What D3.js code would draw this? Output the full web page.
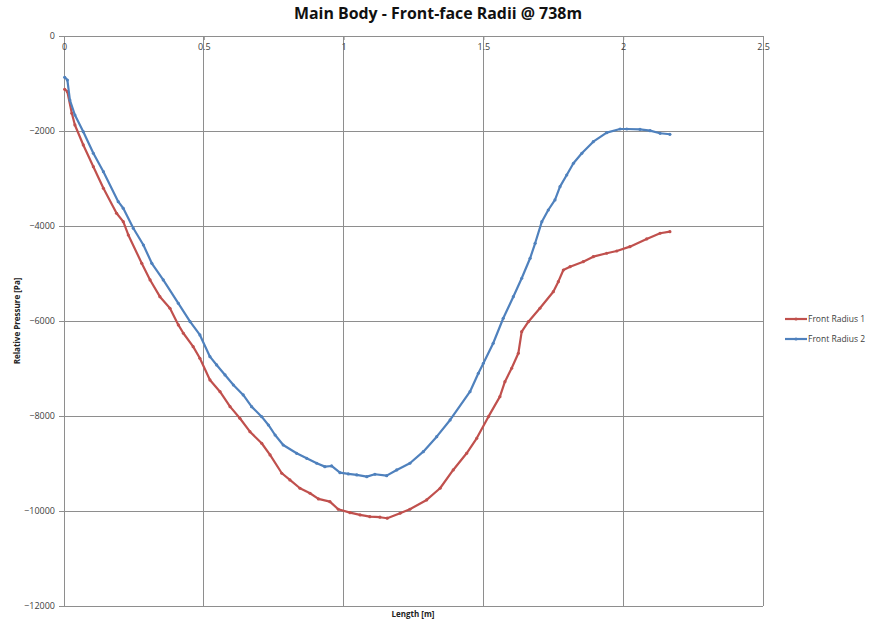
<!DOCTYPE html>
<html>
<head>
<meta charset="utf-8">
<script src="https://cdn.jsdelivr.net/npm/d3@7"></script>
<style>
  html, body { margin: 0; padding: 0; background: #fff; }
  svg { display: block; font-family: "Open Sans", "Liberation Sans", sans-serif; }
</style>
</head>
<body>
<svg id="chart" width="870" height="623"></svg>
<script>
// Front-face radii pressure profiles along the main body length
const radius1Length = [0.0025, 0.012, 0.028, 0.039, 0.069, 0.105, 0.141, 0.188, 0.212, 0.230, 0.278, 0.308, 0.343, 0.379, 0.409, 0.427, 0.462, 0.486, 0.522, 0.558, 0.594, 0.629, 0.665, 0.707, 0.737, 0.779, 0.808, 0.844, 0.880, 0.910, 0.951, 0.981, 1.023, 1.059, 1.094, 1.130, 1.156, 1.202, 1.237, 1.297, 1.345, 1.392, 1.440, 1.476, 1.518, 1.559, 1.577, 1.601, 1.625, 1.637, 1.661, 1.702, 1.750, 1.768, 1.786, 1.810, 1.857, 1.893, 1.941, 1.977, 2.024, 2.084, 2.132, 2.167];
const radius1Pressure = [-1122, -1172, -1627, -1873, -2294, -2751, -3206, -3732, -3909, -4189, -4785, -5136, -5488, -5732, -6083, -6258, -6540, -6784, -7241, -7488, -7803, -8047, -8330, -8574, -8820, -9205, -9346, -9521, -9626, -9746, -9803, -9963, -10035, -10083, -10119, -10131, -10152, -10047, -9963, -9767, -9521, -9136, -8785, -8469, -8014, -7593, -7277, -6995, -6679, -6225, -6014, -5732, -5383, -5172, -4926, -4856, -4751, -4646, -4574, -4526, -4435, -4273, -4153, -4119];

const radius2Length = [0.0025, 0.012, 0.021, 0.039, 0.069, 0.105, 0.141, 0.194, 0.212, 0.248, 0.284, 0.314, 0.355, 0.409, 0.451, 0.486, 0.522, 0.546, 0.576, 0.606, 0.641, 0.671, 0.707, 0.731, 0.755, 0.784, 0.832, 0.868, 0.904, 0.933, 0.957, 0.987, 1.017, 1.047, 1.083, 1.112, 1.154, 1.190, 1.237, 1.285, 1.333, 1.381, 1.452, 1.482, 1.500, 1.535, 1.571, 1.607, 1.637, 1.667, 1.685, 1.709, 1.732, 1.756, 1.774, 1.798, 1.822, 1.852, 1.893, 1.941, 1.989, 2.013, 2.060, 2.096, 2.132, 2.167];
const radius2Pressure = [-870, -926, -1347, -1663, -2015, -2469, -2857, -3488, -3627, -4048, -4400, -4785, -5136, -5627, -6014, -6294, -6751, -6925, -7136, -7347, -7557, -7803, -8014, -8189, -8400, -8610, -8785, -8890, -8995, -9066, -9052, -9193, -9220, -9241, -9277, -9226, -9256, -9136, -8995, -8751, -8435, -8083, -7488, -7100, -6889, -6469, -5942, -5488, -5100, -4680, -4364, -3909, -3663, -3452, -3172, -2926, -2680, -2469, -2225, -2035, -1958, -1958, -1964, -1993, -2048, -2069];

const xTicks = [0, 0.5, 1, 1.5, 2, 2.5];
const yTicks = [0, -2000, -4000, -6000, -8000, -10000, -12000];
const seriesNames = ["Front Radius 1", "Front Radius 2"];
const seriesColors = ["#C0504D", "#4F81BD"];

const svg = d3.select("#chart");
const plot = { left: 64, right: 763, top: 36, bottom: 606 };

const x = d3.scaleLinear().domain([0, 2.5]).range([plot.left, plot.right]);
const y = d3.scaleLinear().domain([0, -12000]).range([plot.top, plot.bottom]);

const gridColor = "#8E8E8E";

// Gridlines
svg.append("g")
  .selectAll("line.v")
  .data(xTicks)
  .join("line")
  .attr("x1", d => x(d)).attr("x2", d => x(d))
  .attr("y1", plot.top).attr("y2", plot.bottom)
  .attr("stroke", gridColor).attr("stroke-width", 1)
  .attr("shape-rendering", "crispEdges");

svg.append("g")
  .selectAll("line.h")
  .data(yTicks)
  .join("line")
  .attr("x1", plot.left).attr("x2", plot.right)
  .attr("y1", d => y(d)).attr("y2", d => y(d))
  .attr("stroke", gridColor).attr("stroke-width", 1)
  .attr("shape-rendering", "crispEdges");

// Y axis (left)
const yAxis = svg.append("g")
  .attr("transform", `translate(${plot.left},0)`)
  .call(d3.axisLeft(y).tickValues(yTicks).tickSize(5).tickPadding(4).tickFormat(d3.format("d")));
yAxis.select(".domain").attr("stroke", gridColor);
yAxis.selectAll(".tick line").attr("stroke", gridColor);
yAxis.selectAll(".tick text")
  .attr("font-family", "'Open Sans', 'Liberation Sans', sans-serif")
  .attr("font-size", 9).attr("fill", "#404040");

// X axis labels just under the top edge, at the zero pressure line
const xAxis = svg.append("g")
  .attr("transform", `translate(0,${y(0)})`)
  .call(d3.axisBottom(x).tickValues(xTicks).tickSize(4).tickPadding(4).tickFormat(d => d3.format("")(d)));
xAxis.select(".domain").attr("stroke", gridColor);
xAxis.selectAll(".tick line").attr("stroke", gridColor);
xAxis.selectAll(".tick text")
  .attr("font-family", "'Open Sans', 'Liberation Sans', sans-serif")
  .attr("font-size", 9).attr("fill", "#404040");

// Title
svg.append("text")
  .attr("x", 438).attr("y", 19)
  .attr("text-anchor", "middle")
  .attr("font-size", 16).attr("font-weight", "bold").attr("fill", "#111")
  .attr("textLength", 288).attr("lengthAdjust", "spacingAndGlyphs")
  .text("Main Body - Front-face Radii @ 738m");

// Axis titles
svg.append("text")
  .attr("x", 413).attr("y", 617)
  .attr("text-anchor", "middle")
  .attr("font-size", 8).attr("font-weight", "bold").attr("fill", "#222")
  .text("Length [m]");

svg.append("text")
  .attr("transform", "translate(20,321) rotate(-90)")
  .attr("text-anchor", "middle")
  .attr("font-size", 8).attr("font-weight", "bold").attr("fill", "#222")
  .text("Relative Pressure [Pa]");

// Series
const series = [
  { name: seriesNames[0], color: seriesColors[0], pts: radius1Length.map((v, i) => [v, radius1Pressure[i]]) },
  { name: seriesNames[1], color: seriesColors[1], pts: radius2Length.map((v, i) => [v, radius2Pressure[i]]) }
];

const line = d3.line().x(d => x(d[0])).y(d => y(d[1])).curve(d3.curveLinear);

series.forEach(s => {
  const g = svg.append("g");
  g.append("path")
    .attr("d", line(s.pts))
    .attr("fill", "none")
    .attr("stroke", s.color)
    .attr("stroke-width", 2.2)
    .attr("stroke-linejoin", "round")
    .attr("stroke-linecap", "round");
  g.selectAll("circle")
    .data(s.pts)
    .join("circle")
    .attr("cx", d => x(d[0])).attr("cy", d => y(d[1]))
    .attr("r", 1.6)
    .attr("fill", s.color);
});

// Legend
const legend = svg.append("g").attr("transform", "translate(785,319)");
series.forEach((s, i) => {
  const row = legend.append("g").attr("transform", `translate(0,${i * 20})`);
  row.append("line")
    .attr("x1", 0).attr("x2", 22).attr("y1", 0).attr("y2", 0)
    .attr("stroke", s.color).attr("stroke-width", 2.2);
  row.append("circle").attr("cx", 11).attr("cy", 0).attr("r", 1.6).attr("fill", s.color);
  row.append("text")
    .attr("x", 23).attr("y", 3)
    .attr("font-size", 8.5).attr("fill", "#404040")
    .text(s.name);
});
</script>
</body>
</html>
